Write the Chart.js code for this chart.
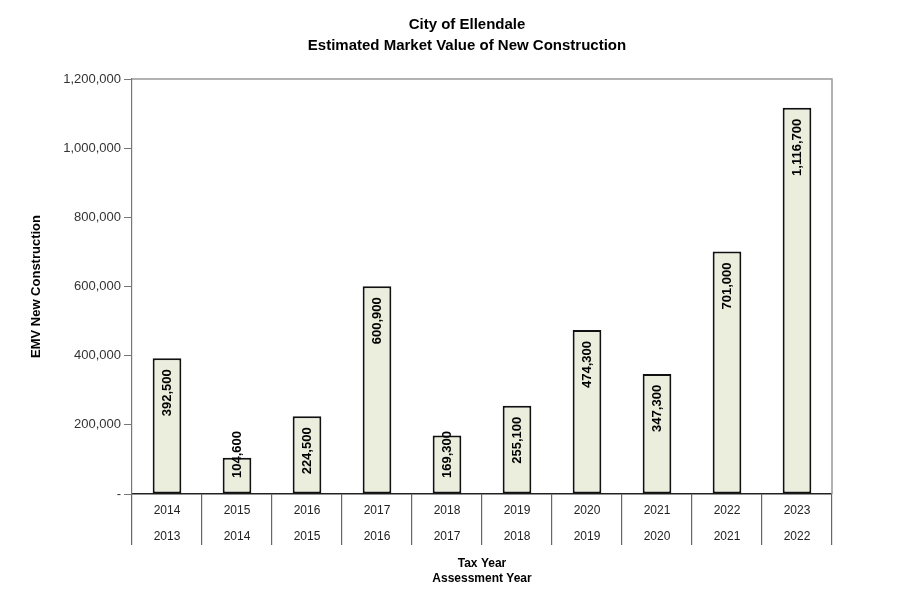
<!DOCTYPE html>
<html>
<head>
<meta charset="utf-8">
<script src="https://cdn.jsdelivr.net/npm/chart.js@4"></script>
<style>
  html, body { margin: 0; padding: 0; background: #fff; }
  #wrap { width: 901px; height: 598px; position: relative; }
</style>
</head>
<body>
<div id="wrap"><canvas id="emvChart"></canvas></div>
<script>
// data
const titleLines = ['City of Ellendale', 'Estimated Market Value of New Construction'];
const taxYears = ['2014','2015','2016','2017','2018','2019','2020','2021','2022','2023'];
const assessYears = ['2013','2014','2015','2016','2017','2018','2019','2020','2021','2022'];
const emvValues = [392500, 104600, 224500, 600900, 169300, 255100, 474300, 347300, 701000, 1116700];
const yTicks = [0, 200000, 400000, 600000, 800000, 1000000, 1200000];

const fmt = v => v === 0 ? '-' : v.toLocaleString('en-US');

Chart.defaults.font.family = "'Liberation Sans', Arial, sans-serif";
Chart.defaults.color = '#333';

// two-line title, centred like the original (not on the plot)
const titlePlugin = {
  id: 'topTitle',
  afterDraw(chart) {
    const {ctx} = chart;
    ctx.save();
    ctx.font = "bold 15px 'Liberation Sans', Arial, sans-serif";
    ctx.fillStyle = '#000';
    ctx.textAlign = 'center';
    ctx.textBaseline = 'middle';
    titleLines.forEach((t, i) => ctx.fillText(t, 467, 25 + i * 21));
    ctx.restore();
  }
};

// gray frame on top + right of plot
const framePlugin = {
  id: 'frame',
  beforeDatasetsDraw(chart) {
    const {ctx, chartArea: a} = chart;
    ctx.save();
    ctx.strokeStyle = '#999';
    ctx.lineWidth = 1.5;
    ctx.beginPath();
    ctx.moveTo(a.left, a.top);
    ctx.lineTo(a.right, a.top);
    ctx.lineTo(a.right, a.bottom);
    ctx.stroke();
    ctx.restore();
  }
};

// rotated value labels inside bar tops
const valueLabels = {
  id: 'valueLabels',
  afterDatasetsDraw(chart) {
    const {ctx} = chart;
    const meta = chart.getDatasetMeta(0);
    const base = chart.scales.y.getPixelForValue(0);
    ctx.save();
    ctx.font = "bold 13px 'Liberation Sans', Arial, sans-serif";
    ctx.fillStyle = '#000';
    ctx.textAlign = 'right';
    ctx.textBaseline = 'middle';
    meta.data.forEach((bar, i) => {
      const txt = fmt(emvValues[i]);
      const w = ctx.measureText(txt).width;
      const top = Math.min(bar.y + 11, base - 16 - w);
      ctx.save();
      ctx.translate(bar.x, top);
      ctx.rotate(-Math.PI / 2);
      ctx.fillText(txt, 0, 0);
      ctx.restore();
    });
    ctx.restore();
  }
};

new Chart(document.getElementById('emvChart'), {
  type: 'bar',
  data: {
    labels: taxYears.map((t, i) => [t, assessYears[i]]),
    datasets: [{
      label: 'EMV New Construction',
      data: emvValues,
      backgroundColor: '#ebeedc',
      borderColor: '#111',
      borderWidth: 2,
      borderSkipped: false,
      categoryPercentage: 1,
      barPercentage: 0.41
    }]
  },
  options: {
    responsive: true,
    maintainAspectRatio: false,
    animation: false,
    layout: {padding: {left: 0, right: 69, top: 79, bottom: 0}},
    plugins: {
      legend: {display: false},
      tooltip: {enabled: false},
      title: {display: false}
    },
    scales: {
      x: {
        grid: {offset: true, drawOnChartArea: false, tickLength: 51, color: '#666', lineWidth: 1.2},
        border: {color: '#222', width: 1.5},
        ticks: {font: {size: 12, lineHeight: 26 / 12}, color: '#222', padding: -47, maxRotation: 0, autoSkip: false},
        title: {
          display: true,
          text: ['Tax Year', 'Assessment Year'],
          color: '#000',
          font: {size: 12, weight: 'bold', lineHeight: '15px'},
          padding: {top: 0, bottom: 11.5}
        },
        afterFit: s => { s.height = 104; }
      },
      y: {
        min: 0,
        max: 1200000,
        afterBuildTicks: s => { s.ticks = yTicks.map(v => ({value: v})); },
        grid: {drawOnChartArea: false, tickLength: 8, color: '#777'},
        border: {color: '#777', width: 1.2},
        ticks: {font: {size: 13}, color: '#333', padding: 3, callback: v => fmt(v)},
        title: {
          display: true,
          text: 'EMV New Construction',
          color: '#000',
          font: {size: 13, weight: 'bold', lineHeight: 1.2},
          padding: {top: 29, bottom: 0}
        },
        afterFit: s => { s.width = 132; }
      }
    }
  },
  plugins: [framePlugin, valueLabels, titlePlugin]
});
</script>
</body>
</html>
